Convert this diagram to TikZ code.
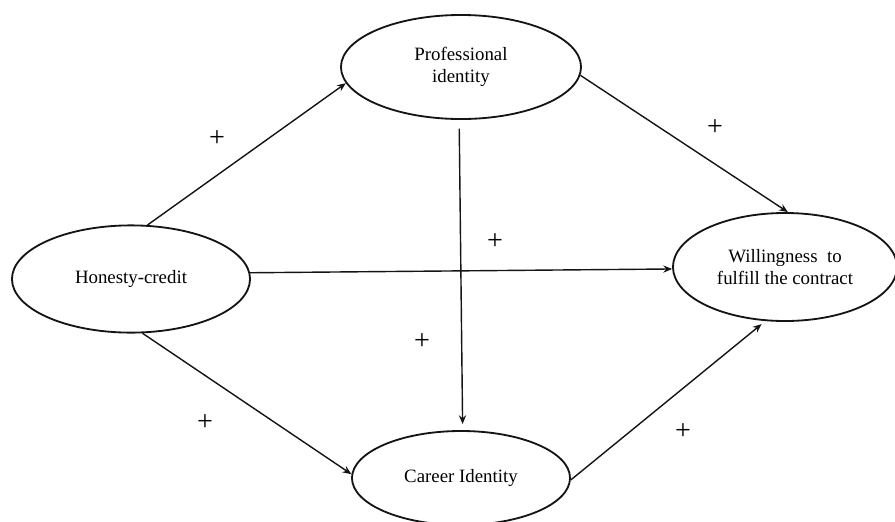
\documentclass[tikz,border=0pt]{standalone}
\usepackage{fontspec}
\setmainfont{Liberation Serif}
\usepackage{tikz}
\usetikzlibrary{arrows.meta,positioning,shapes.geometric}
\definecolor{ink}{RGB}{20,20,20}
\tikzset{
  ell/.style={ellipse,draw=ink,line width=1.3pt,inner sep=0pt,align=center,
    font=\fontsize{13.4}{15.8}\selectfont},
  arr/.style={-{Stealth[length=2.2mm,width=1.8mm]},line width=1pt,ink},
  sgn/.style={font=\fontsize{20}{20}\selectfont,inner sep=0pt},
}
\begin{document}
\begin{tikzpicture}[x=0.025cm,y=-0.025cm]
\useasboundingbox (0,0) rectangle (895,521);
% constructs
\node[ell,minimum width=6cm,minimum height=2.6cm] (pi) at (461,67) {Professional\\identity};
\node[ell,minimum width=5.95cm,minimum height=2.68cm] (hc) at (131,279) {Honesty-credit};
\node[ell,minimum width=5.6cm,minimum height=2.7cm] (wc) at (785,267) {Willingness\ \ to\\fulfill the contract};
\node[ell,minimum width=5.45cm,minimum height=2.35cm] (ci) at (461,478) {Career Identity};
% paths
\draw[arr] (hc.73) -- (pi.188);
\draw[arr] (hc.3) -- (wc.181);
\draw[arr] (hc.282) -- (ci.178);
\draw[arr,shorten <=0.22cm,shorten >=0.15cm] (pi.268) -- (ci.88);
\draw[arr] (pi.356) -- (wc.87);
\draw[arr,shorten >=0.12cm] (ci.359) -- (wc.250);
% signs
\node[sgn] (s1) at (217,139) {+};
\node[sgn] (s2) at (715,128) {+};
\node[sgn] (s3) at (495,242) {+};
\node[sgn] (s4) at (422,342) {+};
\node[sgn] (s5) at (205,423) {+};
\node[sgn] (s6) at (683,432) {+};
\end{tikzpicture}
\end{document}
